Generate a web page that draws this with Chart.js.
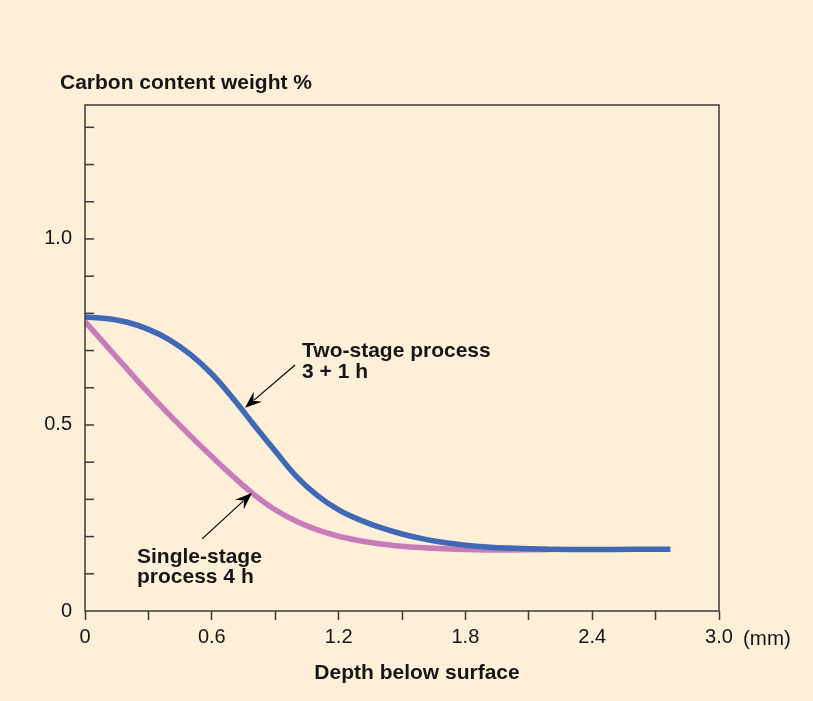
<!DOCTYPE html>
<html>
<head>
<meta charset="utf-8">
<title>Carbon content vs depth</title>
<script src="https://cdn.jsdelivr.net/npm/chart.js@4.4.1/dist/chart.umd.min.js"></script>
<style>
  html, body { margin: 0; padding: 0; background: #fdefd8; }
  #wrap { width: 813px; height: 701px; }
</style>
</head>
<body>
<div id="wrap"><canvas id="carbonChart" width="813" height="701"></canvas></div>
<script>
'use strict';

// ── data (depth in mm, carbon weight %) ─────────────
const depthTwoStage  = [0, 0.1, 0.2, 0.3, 0.4, 0.5, 0.6, 0.7, 0.8, 0.9, 1.0, 1.1, 1.2, 1.3, 1.4, 1.5, 1.6, 1.7, 1.8, 1.9, 2.0, 2.2, 2.4, 2.6, 2.77];
const carbonTwoStage = [0.79, 0.786, 0.776, 0.757, 0.729, 0.689, 0.637, 0.572, 0.5, 0.43, 0.362, 0.31, 0.272, 0.245, 0.224, 0.207, 0.194, 0.184, 0.177, 0.172, 0.169, 0.166, 0.165, 0.166, 0.166];

const depthSingleStage  = [0, 0.1, 0.2, 0.3, 0.4, 0.5, 0.6, 0.7, 0.8, 0.9, 1.0, 1.1, 1.2, 1.3, 1.4, 1.5, 1.6, 1.7, 1.8, 1.9, 2.0, 2.2];
const carbonSingleStage = [0.778, 0.714, 0.65, 0.587, 0.527, 0.47, 0.415, 0.362, 0.313, 0.272, 0.241, 0.218, 0.201, 0.189, 0.18, 0.174, 0.17, 0.167, 0.165, 0.164, 0.164, 0.165];

const xTickLabels = ['0', '0.6', '1.2', '1.8', '2.4', '3.0'];
const yTickValues = [0, 0.5, 1.0];
const yTickLabels = ['0', '0.5', '1.0'];
const yMinorStep  = 0.1;

// ── look ────────────────────────────────────────────
const BG    = '#fdefd8';
const INK   = '#161616';
const AXIS  = '#3a3a3a';
const BLUE  = '#3f68b5';
const PINK  = '#c77cb9';
const FONT  = '"Liberation Sans", Arial, Helvetica, sans-serif';

// annotation anchors in data units (x mm, y %)
const notes = [
  { lines: ['Two-stage process', '3 + 1 h'], x: 1.027, y: 0.683, gap: 21,
    arrow: { from: [0.994, 0.661], to: [0.757, 0.546] } },
  { lines: ['Single-stage', 'process 4 h'], x: 0.246, y: 0.129, gap: 20,
    arrow: { from: [0.554, 0.194], to: [0.790, 0.317] } },
];

function drawArrow(ctx, x0, y0, x1, y1) {
  const dx = x1 - x0, dy = y1 - y0;
  const len = Math.hypot(dx, dy);
  const ux = dx / len, uy = dy / len;
  const nx = -uy, ny = ux;
  const L = 17, W = 6.5;
  ctx.beginPath();
  ctx.moveTo(x0, y0);
  ctx.lineTo(x1 - ux * L * 0.7, y1 - uy * L * 0.7);
  ctx.stroke();
  ctx.beginPath();
  ctx.moveTo(x1, y1);
  ctx.lineTo(x1 - ux * L + nx * W, y1 - uy * L + ny * W);
  ctx.lineTo(x1 - ux * L * 0.65, y1 - uy * L * 0.65);
  ctx.lineTo(x1 - ux * L - nx * W, y1 - uy * L - ny * W);
  ctx.closePath();
  ctx.fill();
}

const decorPlugin = {
  id: 'decor',
  beforeDraw(chart) {
    const { ctx, width, height } = chart;
    ctx.save();
    ctx.fillStyle = BG;
    ctx.fillRect(0, 0, width, height);
    ctx.restore();
  },
  afterDraw(chart) {
    const { ctx, chartArea: a, scales: { x, y } } = chart;
    ctx.save();

    // frame + inward y ticks (every 0.1 below the top edge)
    ctx.strokeStyle = AXIS;
    ctx.lineWidth = 1.5;
    ctx.strokeRect(a.left, a.top, a.right - a.left, a.bottom - a.top);
    for (let k = 1; k * yMinorStep < y.max - 0.02; k++) {
      const py = y.getPixelForValue(k * yMinorStep);
      ctx.beginPath();
      ctx.moveTo(a.left, py);
      ctx.lineTo(a.left + 9, py);
      ctx.stroke();
    }

    // texts
    ctx.fillStyle = INK;
    ctx.textBaseline = 'alphabetic';
    ctx.textAlign = 'left';
    ctx.font = `bold 21px ${FONT}`;
    ctx.fillText('Carbon content weight %', 60, 89);

    ctx.textAlign = 'center';
    ctx.fillText('Depth below surface', 417, 679);

    ctx.textAlign = 'left';
    ctx.font = `20.5px ${FONT}`;
    ctx.fillText('(mm)', 743, 645);

    // annotations
    ctx.font = `bold 21px ${FONT}`;
    ctx.strokeStyle = '#000';
    ctx.lineWidth = 1.2;
    notes.forEach(n => {
      const px = x.getPixelForValue(n.x);
      const py = y.getPixelForValue(n.y);
      ctx.fillStyle = INK;
      n.lines.forEach((s, i) => ctx.fillText(s, px, py + i * n.gap));
      ctx.fillStyle = '#000';
      drawArrow(ctx,
        x.getPixelForValue(n.arrow.from[0]), y.getPixelForValue(n.arrow.from[1]),
        x.getPixelForValue(n.arrow.to[0]),   y.getPixelForValue(n.arrow.to[1]));
    });

    ctx.restore();
  }
};

const toPoints = (xs, ys) => xs.map((v, i) => ({ x: v, y: ys[i] }));

new Chart(document.getElementById('carbonChart'), {
  type: 'line',
  data: {
    datasets: [
      { label: 'Two-stage process 3 + 1 h', data: toPoints(depthTwoStage, carbonTwoStage),
        borderColor: BLUE, borderWidth: 5.5, pointRadius: 0, tension: 0.4, fill: false },
      { label: 'Single-stage process 4 h', data: toPoints(depthSingleStage, carbonSingleStage),
        borderColor: PINK, borderWidth: 5.5, pointRadius: 0, tension: 0.4, fill: false },
    ]
  },
  options: {
    responsive: false,
    animation: false,
    layout: { padding: { top: 105, right: 94, left: 0, bottom: 0 } },
    plugins: { legend: { display: false }, tooltip: { enabled: false }, title: { display: false } },
    scales: {
      x: {
        type: 'linear', min: 0, max: 3.0,
        afterFit: s => { s.height = 90; },
        border: { display: false },
        grid: { drawOnChartArea: false, drawTicks: true, tickLength: 9, tickColor: AXIS, tickWidth: 1.5 },
        ticks: {
          stepSize: 0.3, autoSkip: false, maxRotation: 0, padding: 5,
          color: INK, font: { family: FONT, size: 20 },
          callback: (v, i) => (i % 2 ? '' : (xTickLabels[i / 2] ?? ''))
        }
      },
      y: {
        type: 'linear', min: 0, max: 1.36,
        afterFit: s => { s.width = 85; },
        border: { display: false },
        grid: { drawOnChartArea: false, drawTicks: false },
        ticks: {
          stepSize: 0.1, autoSkip: false, padding: 13,
          color: INK, font: { family: FONT, size: 20 },
          callback: v => {
            const i = yTickValues.findIndex(t => Math.abs(t - v) < 1e-6);
            return i < 0 ? '' : yTickLabels[i];
          }
        }
      }
    }
  },
  plugins: [decorPlugin]
});
</script>
</body>
</html>
